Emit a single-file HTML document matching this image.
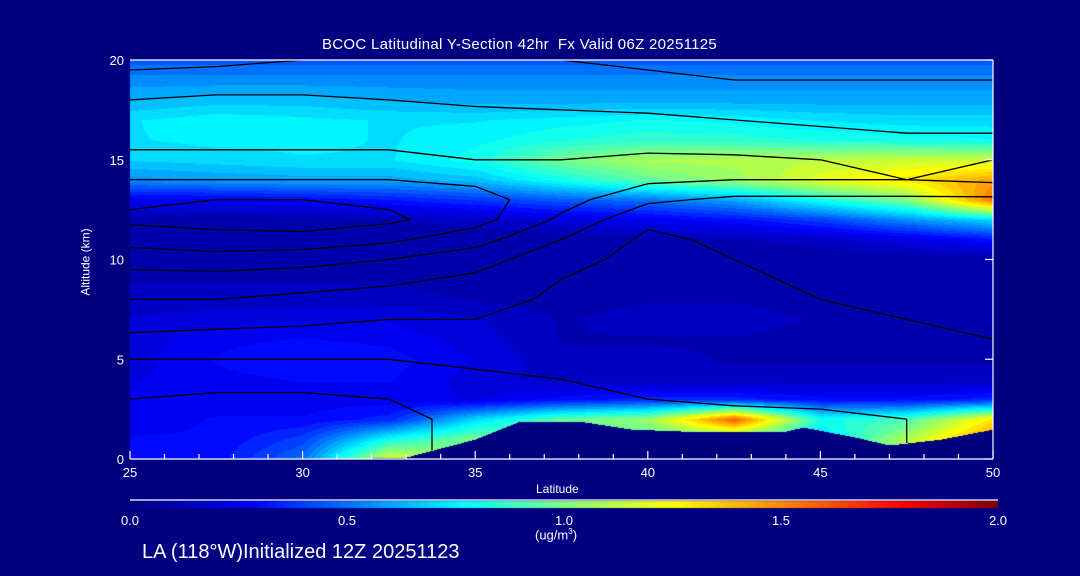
<!DOCTYPE html>
<html><head><meta charset="utf-8">
<style>
html,body{margin:0;padding:0;background:#000080;}
#root{position:relative;width:1080px;height:576px;background:#000080;overflow:hidden;font-family:"Liberation Sans",sans-serif;color:#fff;}
.t{position:absolute;white-space:nowrap;color:#fff;}
canvas,svg{position:absolute;left:0;top:0;}
</style></head>
<body>
<div id="root">
<canvas id="cv" width="1080" height="576"></canvas>
<svg id="sv" width="1080" height="576"></svg>
<div class="t" style="left:322px;top:36px;font-size:15px;letter-spacing:0.3px;">BCOC Latitudinal Y-Section 42hr&nbsp; Fx Valid 06Z 20251125</div>
<div class="t" style="left:52px;top:255px;font-size:12px;transform:rotate(-90deg);transform-origin:center;">Altitude (km)</div>
<div class="t" style="left:536px;top:482px;font-size:12px;">Latitude</div>
<div class="t" style="left:535px;top:527px;font-size:13px;">(ug/m<sup style="font-size:8px">3</sup>)</div>
<div class="t" style="left:142px;top:541px;font-size:20px;">LA (118°W)Initialized 12Z 20251123</div>
</div>
<script>
// ---- data ----
const lats = [25, 27.5, 30, 32.5, 35, 37.5, 40, 42.5, 45, 47.5, 50];
const alts = [0,1,2,3,4,5,6,7,8,9,10,11,12,13,14,15,16,17,18,19,20];
const conc = [
 [0.30,0.30,0.50,1.20,1.00,0.90,0.90,0.90,0.70,1.10,1.50],
 [0.28,0.28,0.40,0.80,1.00,0.90,0.90,0.90,0.70,1.10,1.50],
 [0.25,0.28,0.28,0.35,0.70,0.95,1.05,1.60,0.80,0.90,1.30],
 [0.25,0.25,0.25,0.25,0.22,0.30,0.35,0.35,0.30,0.30,0.35],
 [0.22,0.26,0.28,0.28,0.20,0.15,0.14,0.14,0.14,0.14,0.14],
 [0.20,0.28,0.32,0.30,0.22,0.14,0.14,0.12,0.12,0.12,0.12],
 [0.20,0.26,0.28,0.26,0.20,0.12,0.12,0.12,0.10,0.10,0.10],
 [0.18,0.20,0.22,0.22,0.18,0.12,0.15,0.15,0.12,0.12,0.12],
 [0.15,0.15,0.15,0.15,0.12,0.10,0.12,0.12,0.10,0.10,0.10],
 [0.12,0.12,0.12,0.12,0.10,0.08,0.10,0.08,0.08,0.08,0.08],
 [0.08,0.08,0.08,0.10,0.10,0.08,0.08,0.08,0.08,0.08,0.08],
 [0.08,0.08,0.08,0.08,0.08,0.08,0.10,0.12,0.15,0.22,0.30],
 [0.10,0.08,0.10,0.12,0.15,0.20,0.25,0.30,0.40,0.55,0.70],
 [0.25,0.25,0.28,0.32,0.38,0.45,0.50,0.60,0.80,1.00,1.55],
 [0.55,0.58,0.60,0.60,0.65,0.80,0.95,1.05,1.20,1.30,1.45],
 [0.68,0.70,0.72,0.72,0.80,0.98,1.08,1.10,1.12,1.15,1.15],
 [0.72,0.74,0.74,0.72,0.76,0.82,0.86,0.85,0.82,0.80,0.78],
 [0.72,0.76,0.74,0.72,0.72,0.75,0.78,0.76,0.72,0.70,0.70],
 [0.62,0.65,0.65,0.62,0.60,0.60,0.60,0.60,0.60,0.60,0.60],
 [0.55,0.55,0.55,0.55,0.55,0.55,0.55,0.55,0.55,0.55,0.55],
 [0.45,0.45,0.45,0.45,0.45,0.45,0.45,0.45,0.45,0.45,0.45]
];
const wind = [
 [-2,-3,-3,-1,1,2,3,3,4,5,6],
 [-2,-3,-3,-1,1,2,3,3,4,5,6],
 [-2,-3,-3,-1,1,2,3,3,4,5,6],
 [0,-1,-1,0,2,4,5,6,6,7,7],
 [2,2,2,3,4,5,6,7,7,8,8],
 [5,5,5,5,6,6,6,7,8,8,9],
 [9,8,8,8,8,7,6,7,8,9,10],
 [12,12,11,10,10,8,6,7,9,10,11],
 [15,15,14,13,12,9,7,8,10,11,12],
 [18,18,17,16,14,10,7,9,11,12,13],
 [22,23,22,20,17,12,8,10,12,13,13],
 [27,28,28,26,22,15,9,11,13,13,13],
 [31,32,33,31,27,19,11,11,13,13,12],
 [29,30,30,29,27,22,16,14,14,14,14],
 [25,25,25,25,24,22,21,20,20,20,21],
 [21,21,21,21,20,20,21,21,20,19,20],
 [19,19,19,19,19,19,18,17,17,16,16],
 [17,18,18,18,17,16,16,15,14,13,13],
 [15,16,16,15,14,14,13,12,12,11,11],
 [12,12,12,12,11,11,11,10,10,10,10],
 [8,9,10,10,10,10,9,9,9,8,8]
];
const contourLevels = [0, 5, 10, 15, 20, 25, 30];
const terrainLat = [25, 31, 33, 35, 36.3, 38, 39.5, 41, 44, 44.5, 46, 47, 48.5, 50];
const terrainAlt = [0, 0, 0.1, 1.0, 1.9, 1.9, 1.5, 1.4, 1.4, 1.6, 1.1, 0.7, 1.0, 1.5];
const xTicks = [25, 30, 35, 40, 45, 50];
const yTicks = [0, 5, 10, 15, 20];
const cbTicks = ["0.0", "0.5", "1.0", "1.5", "2.0"];
const cbStops = [[0,[0,0,128]],[0.28,[0,0,255]],[0.77,[0,255,255]],[1.0,[128,255,128]],[1.25,[255,255,0]],[1.78,[255,0,0]],[2.0,[128,0,0]]];

// ---- geometry ----
const X0=130, X1=993, Y0=459, Y1=60;
const sx = lat => X0 + (lat-25)/(50-25)*(X1-X0);
const sy = alt => Y0 - alt/20*(Y0-Y1);
const cbX0=130, cbX1=998;

function colorFor(v){
  v=Math.max(0,Math.min(2,v));
  for(let i=1;i<cbStops.length;i++){
    if(v<=cbStops[i][0]){
      const a=cbStops[i-1], b=cbStops[i], t=(v-a[0])/(b[0]-a[0]);
      return [0,1,2].map(k=>Math.round(a[1][k]+(b[1][k]-a[1][k])*t));
    }
  }
  return cbStops[cbStops.length-1][1];
}
function sample(grid, lat, alt){
  let fi=(lat-lats[0])/(lats[1]-lats[0]); let fj=alt/(alts[1]-alts[0]);
  fi=Math.max(0,Math.min(lats.length-1.0001,fi)); fj=Math.max(0,Math.min(alts.length-1.0001,fj));
  const i=Math.floor(fi), j=Math.floor(fj), u=fi-i, w=fj-j;
  return grid[j][i]*(1-u)*(1-w)+grid[j][i+1]*u*(1-w)+grid[j+1][i]*(1-u)*w+grid[j+1][i+1]*u*w;
}
function terrainAt(lat){
  for(let i=1;i<terrainLat.length;i++){
    if(lat<=terrainLat[i]){const t=(lat-terrainLat[i-1])/(terrainLat[i]-terrainLat[i-1]);return terrainAlt[i-1]+(terrainAlt[i]-terrainAlt[i-1])*t;}
  }
  return terrainAlt[terrainAlt.length-1];
}

// ---- draw field ----
const cv=document.getElementById('cv'), ctx=cv.getContext('2d');
const img=ctx.createImageData(X1-X0, Y0-Y1);
for(let py=0;py<Y0-Y1;py++){
  const alt=(Y0-(Y1+py))/(Y0-Y1)*20;
  for(let px=0;px<X1-X0;px++){
    const lat=25+px/(X1-X0)*25;
    let c;
    if(alt<terrainAt(lat)) c=[0,0,128];
    else { const v=Math.round(sample(conc,lat,alt)/0.05)*0.05; c=colorFor(v); }
    const o=(py*(X1-X0)+px)*4; img.data[o]=c[0];img.data[o+1]=c[1];img.data[o+2]=c[2];img.data[o+3]=255;
  }
}
ctx.putImageData(img,X0,Y1);
// colorbar
for(let px=cbX0;px<cbX1;px++){
  const c=colorFor((px-cbX0)/(cbX1-cbX0)*2);
  ctx.fillStyle=`rgb(${c[0]},${c[1]},${c[2]})`; ctx.fillRect(px,501,1,7);
}

// ---- svg overlay ----
const NS='http://www.w3.org/2000/svg', sv=document.getElementById('sv');
function mk(tag,attrs,parent){const e=document.createElementNS(NS,tag);for(const k in attrs)e.setAttribute(k,attrs[k]);(parent||sv).appendChild(e);return e;}
const defs=mk('defs',{});
const cp=mk('clipPath',{id:'pc'},defs);
let clipPts=[];
for(let lat=25;lat<=50.001;lat+=0.25) clipPts.push(sx(lat)+','+sy(terrainAt(lat)));
clipPts.push(X1+','+Y1, X0+','+Y1);
mk('polygon',{points:clipPts.join(' ')},cp);

const cg=mk('g',{'clip-path':'url(#pc)',fill:'none',stroke:'#000','stroke-width':1.3});


contourLevels.forEach(L=>{
  let d='';
  for(let j=0;j<alts.length-1;j++)for(let i=0;i<lats.length-1;i++){
    const v=[wind[j][i],wind[j][i+1],wind[j+1][i+1],wind[j+1][i]];
    const p=[[lats[i],alts[j]],[lats[i+1],alts[j]],[lats[i+1],alts[j+1]],[lats[i],alts[j+1]]];
    const pts=[];
    for(let e=0;e<4;e++){const a=v[e],b=v[(e+1)%4];
      if((a<L&&b>=L)||(a>=L&&b<L)){const t=(L-a)/(b-a);const A=p[e],B=p[(e+1)%4];pts.push([A[0]+(B[0]-A[0])*t,A[1]+(B[1]-A[1])*t]);}}
    for(let k=0;k+1<pts.length;k+=2) d+=`M${sx(pts[k][0]).toFixed(1)},${sy(pts[k][1]).toFixed(1)}L${sx(pts[k+1][0]).toFixed(1)},${sy(pts[k+1][1]).toFixed(1)}`;
  }
  const path=mk('path',{d:d},cg);
  
  
});

// axes
const ax=mk('g',{stroke:'#fff','stroke-width':1.2,fill:'none'});


mk('line',{x1:X0,y1:Y0,x2:X1,y2:Y0},ax);
mk('line',{x1:X0,y1:Y1,x2:X1,y2:Y1},ax);
mk('line',{x1:X1,y1:Y1,x2:X1,y2:Y0},ax);
mk('line',{x1:cbX0,y1:500,x2:cbX1,y2:500},ax);
for(let lat=25;lat<=50;lat++){const big=lat%5===0;mk('line',{x1:sx(lat),y1:Y0,x2:sx(lat),y2:Y0-(big?8:5)},ax);}
yTicks.forEach(a=>{mk('line',{x1:X1,y1:sy(a),x2:X1-8,y2:sy(a)},ax);});
xTicks.forEach(lat=>{
  const t=mk('text',{x:sx(lat),y:477,fill:'#fff','font-size':13,'text-anchor':'middle','font-family':'Liberation Sans, sans-serif'});
  t.textContent=lat;
  
  
});
yTicks.forEach(a=>{
  const t=mk('text',{x:124,y:sy(a)+5,fill:'#fff','font-size':13,'text-anchor':'end','font-family':'Liberation Sans, sans-serif'});
  t.textContent=a;
  
  
});
cbTicks.forEach((s,k)=>{
  const t=mk('text',{x:cbX0+k*(cbX1-cbX0)/(cbTicks.length-1),y:525,fill:'#fff','font-size':13,'text-anchor':'middle','font-family':'Liberation Sans, sans-serif'});
  t.textContent=s;
  
  
});
</script>
</body></html>
